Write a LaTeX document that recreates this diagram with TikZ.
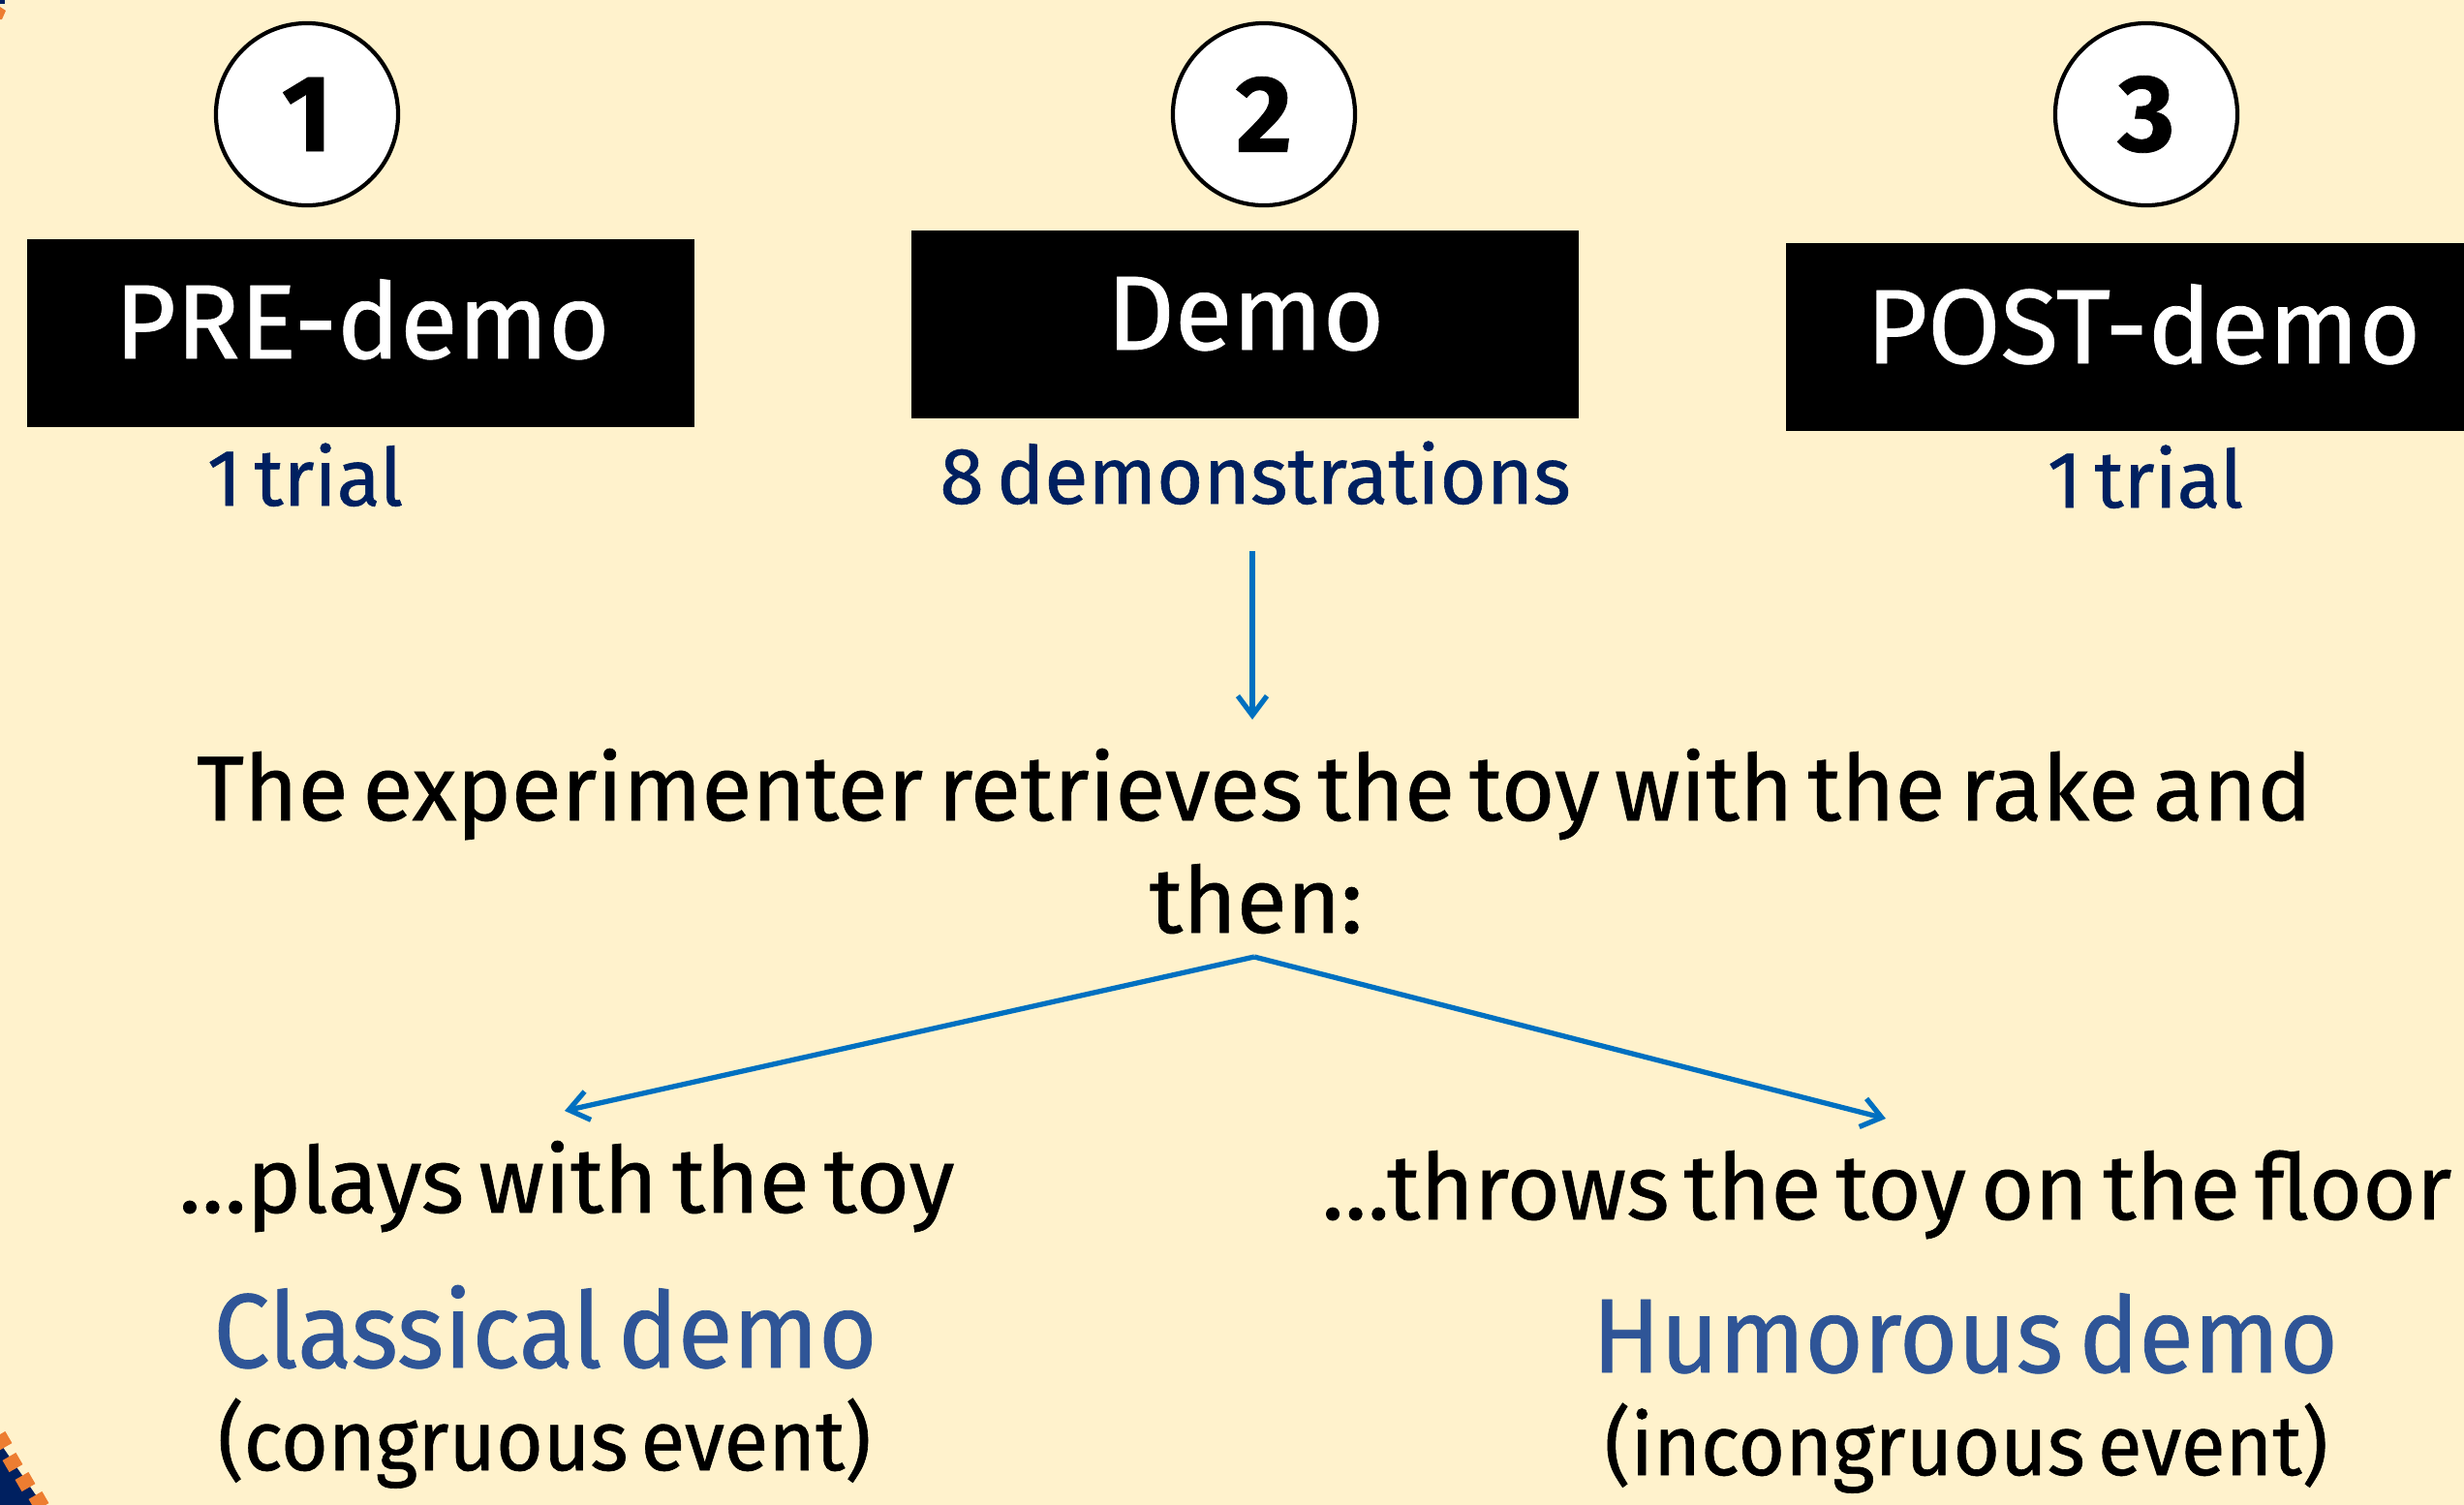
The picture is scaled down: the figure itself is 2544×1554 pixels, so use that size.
\documentclass[tikz,border=0pt]{standalone}
\usepackage{fontspec}
\setmainfont{Fira Sans}[FakeBold=0.7,WordSpace=0.6]
\newfontfamily\condf{Fira Sans}[FakeStretch=0.95,FakeBold=0.7,WordSpace=0.6]
\usetikzlibrary{arrows.meta}
\definecolor{bg}{HTML}{FFF2CC}
\definecolor{navy}{HTML}{002060}
\definecolor{ablue}{HTML}{0070C0}
\definecolor{tblue}{HTML}{2F5597}
\definecolor{dorange}{HTML}{ED7D31}
\begin{document}
\begin{tikzpicture}[x=0.01cm,y=-0.01cm,
  numcirc/.style={circle,draw=black,line width=1.2pt,fill=white,minimum size=1.88cm,inner sep=0pt,font=\fontsize{32pt}{36pt}\selectfont\bfseries},
  stagebox/.style={fill=black,minimum height=1.94cm,inner sep=0pt},
  stagetext/.style={anchor=base,text=white,inner sep=0pt,font=\fontsize{31pt}{36pt}\selectfont},
  subtext/.style={anchor=base,text=navy,inner sep=0pt,font=\fontsize{23.5pt}{28pt}\selectfont},
  bodytext/.style={anchor=base,text=black,inner sep=0pt,font=\fontsize{27pt}{32pt}\selectfont},
  paren/.style={anchor=base,text=black,inner sep=0pt,font=\condf\fontsize{25pt}{30pt}\selectfont},
  condtext/.style={anchor=base,text=tblue,inner sep=0pt,font=\condf\fontsize{31pt}{36pt}\selectfont},
  arr/.style={draw=ablue,line width=1.5pt,-{Straight Barb[length=0.2cm,width=0.3cm,line width=1.5pt]}}
]
\fill[bg] (0,0) rectangle (2544,1554);
\useasboundingbox (0,0) rectangle (2544,1554);
% corner decorations
\fill[navy] (0,1490) -- (44,1554) -- (0,1554) -- cycle;
\foreach \p in {(2,1488),(13,1510),(26,1530),(40,1550)}
  \fill[dorange,rotate around={30:\p}] \p ++(-8,-7) rectangle ++(16,14);
\fill[navy] (0,0) rectangle (5,4);
\fill[dorange] (0,7) -- (6,11) -- (2,20) -- (0,20) -- cycle;

% step circles
\node[numcirc] (c1) at (317,118) {1};
\node[numcirc] (c2) at (1305,118) {2};
\node[numcirc] (c3) at (2216,118) {3};

% stage boxes
\node[stagebox,minimum width=6.89cm] (pre) at (372.5,344) {};
\node[stagebox,minimum width=6.89cm] (demo) at (1285.5,335) {};
\node[stagebox,minimum width=7.0cm] (post) at (2194,348) {};
\node[stagetext] (pret) at (374,370) {PRE-demo};
\node[stagetext] (demot) at (1286,361) {Demo};
\node[stagetext] (postt) at (2213,375) {POST-demo};

% sub texts
\node[subtext] (t1) at (315,522) {1 trial};
\node[subtext] (demos) at (1296,520) {8 demonstrations};
\node[subtext] (t3) at (2215,524) {1 trial};

% main text
\node[bodytext] (mainA) at (1295,847) {The experimenter retrieves the toy with the rake and};
\node[bodytext] (mainB) at (1297,963) {then:};

% connectors
\coordinate (dstart) at (1293,569);
\coordinate (dend) at (1293,743);
\draw[arr] (dstart) -- (dend);
\coordinate (apex) at (1295,988);
\coordinate (ltip) at (583,1147);
\coordinate (rtip) at (1947,1155);
\draw[arr] (apex) -- (ltip);
\draw[arr] (apex) -- (rtip);

% outcomes
\node[bodytext] (plays) at (585,1252) {…plays with the toy};
\node[bodytext] (throws) at (1948,1259) {…throws the toy on the floor};
\node[condtext] (classical) at (563,1412) {Classical demo};
\node[paren] (cong) at (562,1518) {(congruous event)};
\node[condtext] (humor) at (2029,1417) {Humorous demo};
\node[paren] (incong) at (2030,1523) {(incongruous event)};
\end{tikzpicture}
\end{document}
